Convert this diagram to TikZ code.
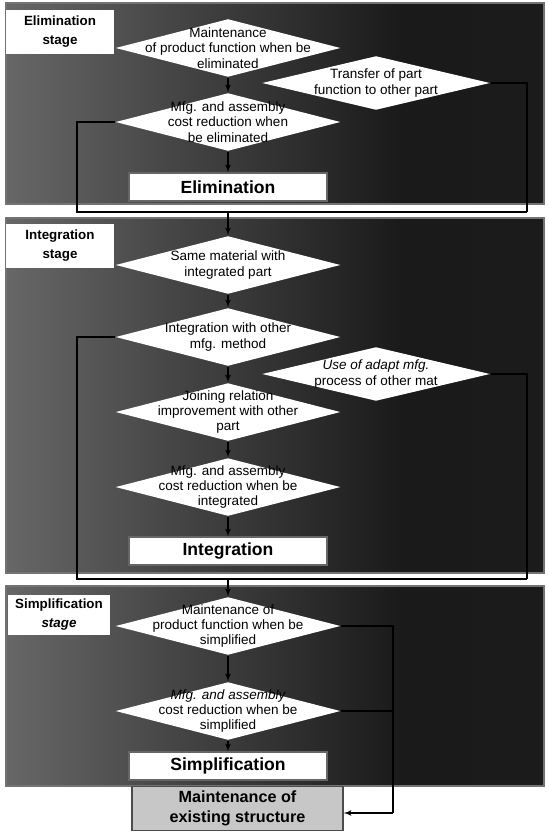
\documentclass[tikz,border=0pt]{standalone}
\usepackage{fontspec}
\setmainfont{Liberation Sans}
\usetikzlibrary{shapes,arrows}
\usetikzlibrary{shapes.geometric}
\usetikzlibrary{positioning}
\pgfdeclarehorizontalshading{stagefade}{100bp}{color(0bp)=(black!38);
    color(16bp)=(black!52); color(42bp)=(black!74); color(62bp)=(black!90);
    color(94bp)=(black!88); color(100bp)=(black!58)}
\tikzstyle{stagebg} = [draw=black!55, shading=stagefade]
\tikzstyle{decision} = [diamond, fill=white, inner sep=0pt,
    minimum width=5.625cm, minimum height=1.45cm]
\tikzstyle{sidedecision} = [decision, minimum width=5.7cm, minimum height=1.35cm]
\tikzstyle{dtext} = [align=center, inner sep=0pt, font=\fontsize{9.6}{10.8}\selectfont]
\tikzstyle{result} = [draw=black!60, fill=white, minimum width=4.95cm,
    minimum height=0.7cm, font=\fontsize{12.5}{14}\selectfont\bfseries]
\tikzstyle{stagelabel} = [fill=white, minimum width=2.72cm, minimum height=1.1cm,
    align=center, font=\fontsize{9.5}{13.5}\selectfont\bfseries]
\tikzstyle{junction} = [coordinate]

\begin{document}
\begin{tikzpicture}[x=0.025cm, y=-0.025cm, >=latex', line width=0.9pt]
    \useasboundingbox (0,0) rectangle (547,832);
    % the three stage panels
    \path [stagebg] (6,3) rectangle (544,204);
    \path [stagebg] (6,218) rectangle (544,573);
    \path [stagebg] (6,586) rectangle (544,786);

    % Elimination stage
    \node [stagelabel] (elimstage) at (60,32) {Elimination\\stage};
    \node [decision, label={[dtext]center:{Maintenance\\of product function when be\\eliminated}}] (keepfunc) at (228,48) {};
    \node [decision, below of=keepfunc, node distance=1.85cm,
        label={[dtext]center:{Mfg. and assembly\\cost reduction when\\be eliminated}}] (elimcost) {};
    \node [result, below of=elimcost, node distance=1.625cm] (elim) {Elimination};
    \node [sidedecision, label={[dtext]center:{Transfer of part\\function to other part}}] (transfer) at (376,83) {};

    % Integration stage
    \node [stagelabel] (intstage) at (60,246) {Integration\\stage};
    \node [decision, label={[dtext]center:{Same material with\\integrated part}}] (samemat) at (228,265) {};
    \node [decision, below of=samemat, node distance=1.8cm,
        label={[dtext]center:{Integration with other\\mfg. method}}] (othermfg) {};
    \node [decision, below of=othermfg, node distance=1.875cm,
        label={[dtext]center:{Joining relation\\improvement with other\\part}}] (joining) {};
    \node [decision, below of=joining, node distance=1.875cm,
        label={[dtext]center:{Mfg. and assembly\\cost reduction when be\\integrated}}] (intcost) {};
    \node [result, below of=intcost, node distance=1.6cm] (integ) {Integration};
    \node [sidedecision, label={[dtext]center:{\itshape Use of adapt mfg.\\process of other mat}}] (adapt) at (376,374) {};

    % Simplification stage
    \node [stagelabel, minimum width=2.55cm, minimum height=0.92cm] (simpstage) at (59,615) {Simplification\\\itshape stage};
    \node [decision, label={[dtext]center:{Maintenance of\\product function when be\\simplified}}] (keepsimp) at (228,626) {};
    \node [decision, below of=keepsimp, node distance=2.125cm,
        label={[dtext]center:{\itshape Mfg. and assembly\\cost reduction when be\\simplified}}] (simpcost) {};
    \node [result, below of=simpcost, node distance=1.375cm] (simp) {Simplification};
    \node [result, fill=black!22, draw=black!70, minimum width=5.275cm, minimum height=1.075cm,
        align=center, font=\fontsize{11.5}{14}\selectfont\bfseries] (existing) at (237.5,808.5) {Maintenance of\\existing structure};

    % junctions between the stages
    \node [junction] (left1) at (77,212) {};
    \node [junction] (right1) at (527,212) {};
    \node [junction] (mid1) at (228,212) {};
    \node [junction] (left2) at (77,579) {};
    \node [junction] (right2) at (527,579) {};
    \node [junction] (mid2) at (228,579) {};
    \node [junction] (turn) at (393,813) {};

    % flow inside the stages
    \draw [->] (keepfunc) -- (elimcost);
    \draw [->] (elimcost) -- (elim);
    \draw [->] (samemat) -- (othermfg);
    \draw [->] (othermfg) -- (joining);
    \draw [->] (joining) -- (intcost);
    \draw [->] (intcost) -- (integ);
    \draw [->] (keepsimp) -- (simpcost);
    \draw [->] (simpcost) -- (simp);

    % passing on to the next stage
    \draw (elimcost.west) -| (left1) -- (right1);
    \draw (transfer.east) -| (right1);
    \draw [->] (mid1) -- (samemat.north);
    \draw (othermfg.west) -| (left2) -- (right2);
    \draw (adapt.east) -| (right2);
    \draw [->] (mid2) -- (keepsimp.north);
    \draw (keepsimp.east) -| (turn);
    \draw (simpcost.east) -- (simpcost.east -| turn);
    \draw [->] (turn) -- (existing.east |- turn);
\end{tikzpicture}
\end{document}
